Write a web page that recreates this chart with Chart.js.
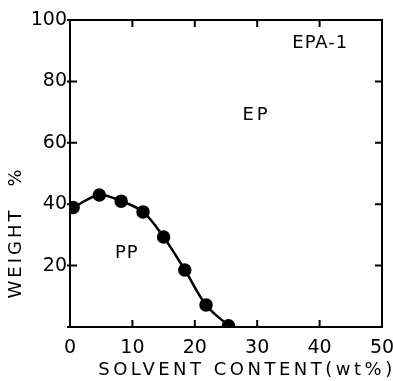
<!DOCTYPE html>
<html><head><meta charset="utf-8">
<script src="https://cdn.jsdelivr.net/npm/chart.js@4"></script>
<style>html,body{margin:0;padding:0;background:#fff}#w{width:393px;height:381px}</style>
</head><body><div id="w"><canvas id="c"></canvas></div>
<script>
const solventContent = [0.5, 4.7, 8.2, 11.7, 15.0, 18.4, 21.8, 25.4];
const weightPP = [38.9, 43.0, 41.0, 37.5, 29.3, 18.6, 7.2, 0.4];
const xTicks = [0, 10, 20, 30, 40, 50];
const yTicks = [0, 20, 40, 60, 80, 100];
const labels = [{t:'EPA-1', x:40.1, y:92.5, s:'1px'}, {t:'EP', x:29.9, y:69, s:'3px'}, {t:'PP', x:9.1, y:24, s:'1px'}];
const xTitle = 'SOLVENT CONTENT(wt%)';
const yTitleWord = 'WEIGHT', yTitleUnit = '%';

const FONT = '"DejaVu Sans", sans-serif';

const framePlugin = {
  id: 'frame',
  afterDatasetsDraw(chart) {
    const {ctx, chartArea: a, scales: {x, y}} = chart;
    ctx.save();
    ctx.strokeStyle = '#000';
    ctx.lineWidth = 2;
    ctx.strokeRect(a.left, a.top, a.right - a.left, a.bottom - a.top);
    const L = 7;
    ctx.beginPath();
    xTicks.forEach(v => {
      const px = x.getPixelForValue(v);
      ctx.moveTo(px, a.bottom); ctx.lineTo(px, a.bottom - L);
      ctx.moveTo(px, a.top); ctx.lineTo(px, a.top + L);
    });
    yTicks.forEach(v => {
      const py = y.getPixelForValue(v);
      ctx.moveTo(a.left - 3, py); ctx.lineTo(a.left + L, py);
      ctx.moveTo(a.right, py); ctx.lineTo(a.right - L, py);
    });
    ctx.stroke();
    // annotations
    ctx.fillStyle = '#000';
    ctx.font = '18px ' + FONT;
    ctx.textAlign = 'center'; ctx.textBaseline = 'middle';
    labels.forEach(l => { ctx.letterSpacing = l.s; ctx.fillText(l.t, x.getPixelForValue(l.x), y.getPixelForValue(l.y)); });
    // x title
    ctx.font = '18px ' + FONT;
    ctx.letterSpacing = '3.5px';
    ctx.textAlign = 'center';
    ctx.fillText(xTitle, 247, 370);
    // y title
    ctx.save();
    ctx.translate(16, 0);
    ctx.rotate(-Math.PI / 2);
    ctx.letterSpacing = '3px';
    ctx.textAlign = 'center';
    ctx.fillText(yTitleWord, -253, 0);
    ctx.letterSpacing = '0px';
    ctx.fillText(yTitleUnit, -178, 0);
    ctx.restore();
    ctx.restore();
  }
};

new Chart(document.getElementById('c'), {
  type: 'scatter',
  data: {
    datasets: [{
      data: solventContent.map((v, i) => ({x: v, y: weightPP[i]})),
      showLine: true,
      borderColor: '#000',
      backgroundColor: '#000',
      borderWidth: 2.5,
      pointRadius: 5.5,
      pointHoverRadius: 5.5,
      tension: 0.35
    }]
  },
  options: {
    responsive: true,
    maintainAspectRatio: false,
    animation: false,
    layout: {padding: {top: 20, right: 11, left: 0, bottom: 0}},
    plugins: {legend: {display: false}, tooltip: {enabled: false}},
    scales: {
      x: {
        type: 'linear', min: 0, max: 50,
        afterBuildTicks: s => { s.ticks = xTicks.map(v => ({value: v})); },
        afterFit: s => { s.height = 54; s.paddingRight = 0; s.paddingLeft = 0; },
        grid: {display: false, drawTicks: false},
        border: {display: false},
        ticks: {padding: 10, color: '#000', font: {family: FONT, size: 19}}
      },
      y: {
        type: 'linear', min: 0, max: 100,
        afterBuildTicks: s => { s.ticks = yTicks.map(v => ({value: v})); },
        afterFit: s => { s.width = 70; s.paddingTop = 0; s.paddingBottom = 0; },
        grid: {display: false, drawTicks: false},
        border: {display: false},
        ticks: {padding: 3, color: '#000', font: {family: FONT, size: 19},
          callback: v => v === 0 ? '' : String(v)}
      }
    }
  },
  plugins: [framePlugin]
});
</script>
</body></html>
